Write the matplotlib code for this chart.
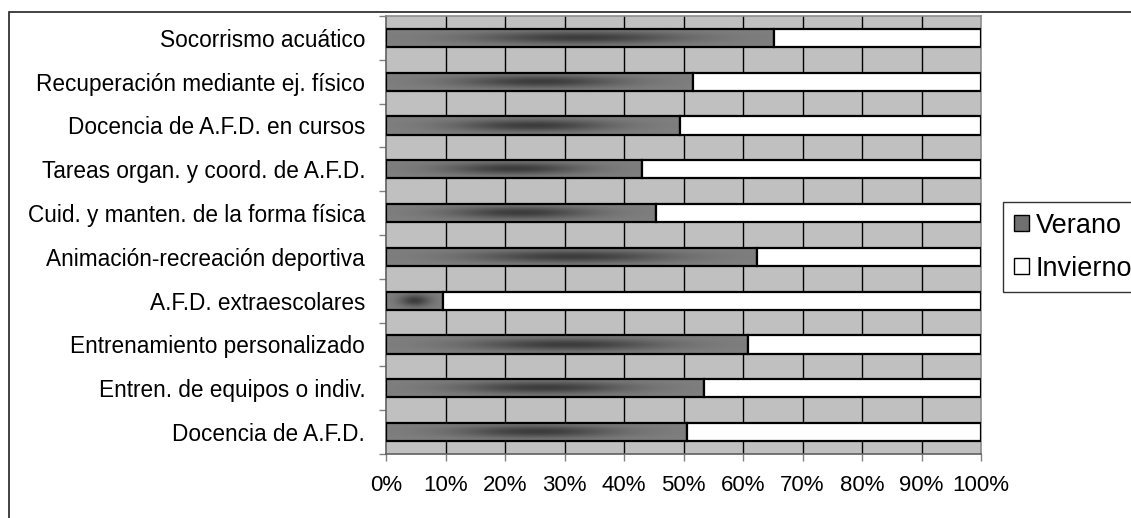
import numpy as np
import matplotlib.pyplot as plt
from matplotlib.colors import LinearSegmentedColormap
from matplotlib.patches import Rectangle, Patch

plt.rcParams["font.family"] = ["Liberation Sans", "DejaVu Sans"]

categorias = [
    "Socorrismo acuático",
    "Recuperación mediante ej. físico",
    "Docencia de A.F.D. en cursos",
    "Tareas organ. y coord. de A.F.D.",
    "Cuid. y manten. de la forma física",
    "Animación-recreación deportiva",
    "A.F.D. extraescolares",
    "Entrenamiento personalizado",
    "Entren. de equipos o indiv.",
    "Docencia de A.F.D.",
]
verano = [65.2, 51.6, 49.4, 43.1, 45.3, 62.4, 9.6, 60.9, 53.4, 50.6]
invierno = [34.8, 48.4, 50.6, 56.9, 54.7, 37.6, 90.4, 39.1, 46.6, 49.4]
ticks_x = [0, 10, 20, 30, 40, 50, 60, 70, 80, 90, 100]
tick_labels = [f"{t}%" for t in ticks_x]

W, H = 1131, 518
fig = plt.figure(figsize=(W / 100, H / 100), dpi=100)
ax = fig.add_axes([386 / W, 1 - 454 / H, (981 - 386) / W, (454 - 16) / H])
ax.set_facecolor("#C0C0C0")

# outer chart frame (runs off the right and bottom edges)
fig.patches.append(Rectangle((9 / W, -0.1), 1.2, 1 - 12 / H + 0.1,
                             transform=fig.transFigure, fill=False,
                             edgecolor="#222222", linewidth=1.2))

grad = LinearSegmentedColormap.from_list("g", ["#808080", "#3C3C3C"])
gx = np.linspace(0, 1, 200)
gy = np.linspace(0, 1, 30)
GX, GY = np.meshgrid(gx, gy)
shade = np.exp(-((GX - 0.5) / 0.27) ** 2) * np.exp(-((GY - 0.5) / 0.33) ** 2)

ys = np.arange(len(categorias))
h = 0.42
for y, v, w in zip(ys, verano, invierno):
    ax.imshow(shade, cmap=grad, vmin=0, vmax=1, aspect="auto",
              extent=(0, v, y + h / 2, y - h / 2), zorder=2,
              interpolation="bilinear")
    ax.barh(y, v, height=h, left=0, fill=False, edgecolor="black",
            linewidth=1.6, zorder=3)
    ax.barh(y, w, height=h, left=v, color="white", edgecolor="black",
            linewidth=1.6, zorder=3)

ax.set_xlim(0, 100)
ax.set_ylim(len(categorias) - 0.5, -0.5)
ax.set_xticks(ticks_x)
ax.set_xticklabels(tick_labels, fontsize=16)
ax.set_yticks(ys)
ax.set_yticklabels(categorias, fontsize=16.3)
ax.set_yticks(np.arange(-0.5, len(categorias)), minor=True)
ax.tick_params(axis="y", which="major", length=0, pad=15)
ax.tick_params(axis="y", which="minor", length=5, color="#808080", width=1)
ax.tick_params(axis="x", length=5, color="#808080", width=1, pad=10)
for x in ticks_x[1:-1]:
    ax.axvline(x, color="black", linewidth=1, zorder=1)

for side in ["top", "right"]:
    ax.spines[side].set_color("#8C8C8C")
    ax.spines[side].set_linewidth(1.2)
for side in ["left", "bottom"]:
    ax.spines[side].set_color("#606060")
    ax.spines[side].set_linewidth(1.2)

handles = [Patch(facecolor="#707070", edgecolor="black", linewidth=1),
           Patch(facecolor="white", edgecolor="black", linewidth=1)]
leg = fig.legend(handles, ["Verano", "Invierno"], loc="upper left",
                 bbox_to_anchor=(1003 / W, 1 - 202 / H), fontsize=19.5,
                 frameon=True, fancybox=False, borderaxespad=0,
                 handlelength=0.55, handleheight=0.55, handletextpad=0.25,
                 labelspacing=0.62, borderpad=0.4)
leg.get_frame().set_edgecolor("black")
leg.get_frame().set_linewidth(1)

fig.savefig("out.png", dpi=100)
